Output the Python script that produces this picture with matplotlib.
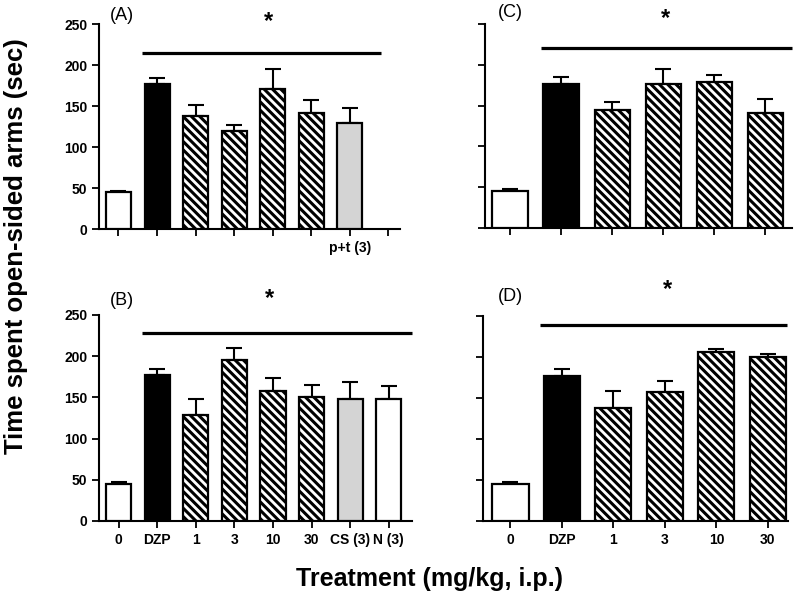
import numpy as np
import matplotlib
matplotlib.use("Agg")
import matplotlib.pyplot as plt

plt.rcParams["font.family"] = ["Liberation Sans", "DejaVu Sans"]
plt.rcParams["hatch.linewidth"] = 2.2

# DATA
labels_a = ["", "", "", "", "", "", "p+t (3)", ""]
means_a = [45, 177, 138, 120, 171, 142, 130]
errs_a = [2, 8, 14, 7, 25, 16, 18]
styles_a = ["white", "black", "hatch", "hatch", "hatch", "hatch", "gray"]

labels_b = ["0", "DZP", "1", "3", "10", "30", "CS (3)", "N (3)"]
means_b = [45, 177, 129, 195, 158, 150, 148, 148]
errs_b = [2, 8, 19, 15, 15, 15, 21, 16]
styles_b = ["white", "black", "hatch", "hatch", "hatch", "hatch", "gray", "white"]

labels_c = ["", "", "", "", "", ""]
means_c = [45, 177, 144, 176, 179, 141]
errs_c = [2, 8, 10, 19, 8, 17]
styles_c = ["white", "black", "hatch", "hatch", "hatch", "hatch"]

labels_d = ["0", "DZP", "1", "3", "10", "30"]
means_d = [46, 177, 138, 158, 206, 200]
errs_d = [2, 8, 21, 13, 4, 4]
styles_d = ["white", "black", "hatch", "hatch", "hatch", "hatch"]


def draw_panel(ax, labels, means, errs, styles, width, xlim, sig_line, star, tag):
    x = np.arange(len(means))
    for i, s in enumerate(styles):
        if s == "black":
            fc, hatch = "black", None
        elif s == "gray":
            fc, hatch = "#d4d4d4", None
        elif s == "hatch":
            fc, hatch = "white", "\\\\\\\\"
        else:
            fc, hatch = "white", None
        ax.bar(x[i], means[i], width=width, color=fc, edgecolor="black",
               linewidth=1.6, hatch=hatch, zorder=3)
    ax.errorbar(x, means, yerr=[np.zeros(len(errs)), errs], fmt="none",
                ecolor="black", elinewidth=1.5, capsize=6, capthick=1.5, zorder=2)

    # significance bar and star
    ax.plot(sig_line[:2], [sig_line[2], sig_line[2]], color="black",
            linewidth=2.3, clip_on=False, solid_capstyle="butt")
    ax.text(star[0], star[1], "*", fontsize=17, fontweight="bold",
            ha="center", va="center", clip_on=False)
    ax.text(tag[0], tag[1], tag[2], fontsize=13, ha="center", va="center")

    ax.set_xlim(*xlim)
    ax.set_ylim(0, 250)
    ax.set_xticks(np.arange(len(labels)))
    ax.set_xticklabels(labels, fontsize=10, fontweight="bold")
    ax.set_yticks([0, 50, 100, 150, 200, 250])
    ax.spines["top"].set_visible(False)
    ax.spines["right"].set_visible(False)
    ax.spines["left"].set_linewidth(1.5)
    ax.spines["bottom"].set_linewidth(1.5)
    ax.tick_params(width=1.3, length=5, labelsize=10)


fig = plt.figure(figsize=(8, 5.98), dpi=100)

ax_a = fig.add_axes([0.124, 0.6166, 0.376, 0.3428])
ax_c = fig.add_axes([0.606, 0.6192, 0.3846, 0.3406])
ax_b = fig.add_axes([0.124, 0.1288, 0.391, 0.3445])
ax_d = fig.add_axes([0.604, 0.128, 0.381, 0.3438])

draw_panel(ax_a, labels_a, means_a, errs_a, styles_a, 0.65, (-0.5, 7.3),
           (0.61, 6.8, 215), (3.9, 253), (0.1, 261, "(A)"))
draw_panel(ax_b, labels_b, means_b, errs_b, styles_b, 0.65, (-0.5, 7.6),
           (0.61, 7.6, 228), (3.9, 270), (0.1, 268, "(B)"))
draw_panel(ax_c, labels_c, means_c, errs_c, styles_c, 0.7, (-0.5, 5.53),
           (0.61, 5.53, 220), (3.05, 257), (0.0, 264, "(C)"))
draw_panel(ax_d, labels_d, means_d, errs_d, styles_d, 0.7, (-0.53, 5.39),
           (0.57, 5.38, 239), (3.05, 282), (0.0, 273, "(D)"))

for ax in (ax_a, ax_b):
    for t in ax.get_yticklabels():
        t.set_fontweight("bold")
for ax in (ax_c, ax_d):
    ax.set_yticklabels([])

fig.text(0.02, 0.588, "Time spent open-sided arms (sec)", rotation=90,
         fontsize=18.5, fontweight="bold", ha="center", va="center")
fig.text(0.5375, 0.032, "Treatment (mg/kg, i.p.)", fontsize=18,
         fontweight="bold", ha="center", va="center")

fig.savefig("out.png", dpi=100)
